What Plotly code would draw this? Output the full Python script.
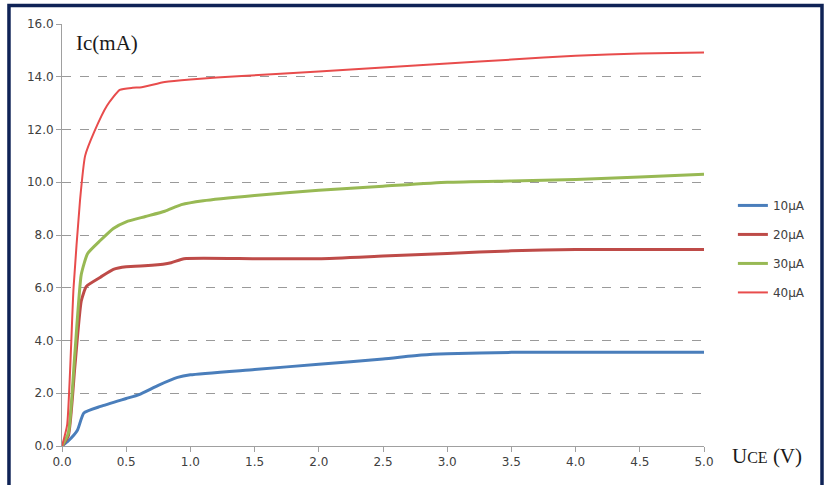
import plotly.graph_objects as go

# Data (U_CE in V, Ic in mA)
x_10 = [0, 0.05, 0.12, 0.17, 0.3, 0.5, 0.6, 0.75, 0.9, 1.0, 1.5, 2.0, 2.5, 2.8, 3.0, 3.5, 4.0, 4.5, 5.0]
y_10 = [0, 0.2, 0.6, 1.25, 1.5, 1.8, 1.95, 2.3, 2.6, 2.7, 2.9, 3.1, 3.3, 3.45, 3.5, 3.55, 3.55, 3.55, 3.55]

x_20 = [0, 0.05, 0.1, 0.15, 0.19, 0.3, 0.4, 0.5, 0.7, 0.85, 0.95, 1.5, 2.0, 2.5, 3.0, 3.5, 4.0, 4.5, 5.0]
y_20 = [0, 0.4, 3.0, 5.5, 6.05, 6.4, 6.7, 6.8, 6.85, 6.95, 7.1, 7.1, 7.1, 7.2, 7.3, 7.4, 7.45, 7.45, 7.45]

x_30 = [0, 0.05, 0.1, 0.15, 0.2, 0.3, 0.4, 0.5, 0.65, 0.8, 0.93, 1.1, 1.5, 2.0, 2.5, 3.0, 3.5, 4.0, 4.5, 5.0]
y_30 = [0, 0.5, 3.5, 6.5, 7.3, 7.8, 8.25, 8.5, 8.7, 8.9, 9.15, 9.3, 9.5, 9.7, 9.85, 10.0, 10.05, 10.1, 10.2, 10.3]

x_40 = [0, 0.04, 0.09, 0.14, 0.18, 0.25, 0.35, 0.45, 0.55, 0.62, 0.8, 1.0, 1.4, 2.0, 2.5, 3.0, 3.5, 4.0, 4.5, 5.0]
y_40 = [0, 0.8, 6.0, 9.3, 11.0, 11.9, 12.9, 13.5, 13.58, 13.6, 13.8, 13.9, 14.03, 14.2, 14.35, 14.5, 14.65, 14.8, 14.88, 14.92]

series_names = ["10μA", "20μA", "30μA", "40μA"]
series_colors = ["#4a7ebb", "#be4b48", "#98b954", "#e84c4c"]
series_widths = [3, 3, 3, 2]

x_ticks = [0, 0.5, 1.0, 1.5, 2.0, 2.5, 3.0, 3.5, 4.0, 4.5, 5.0]
y_ticks = [0, 2, 4, 6, 8, 10, 12, 14, 16]

fig = go.Figure()
for name, xs, ys, c, w in zip(series_names, [x_10, x_20, x_30, x_40], [y_10, y_20, y_30, y_40],
                              series_colors, series_widths):
    fig.add_trace(go.Scatter(x=xs, y=ys, mode="lines", name=name, legendgroup=name,
                             line=dict(color=c, width=w, shape="spline", smoothing=0.5)))

tick_font = dict(family="DejaVu Sans", size=12, color="#404040")

fig.update_layout(
    width=828, height=485,
    margin=dict(l=62, r=124, t=24, b=39),
    paper_bgcolor="white", plot_bgcolor="white",
    showlegend=True,
    legend=dict(x=1.045, xanchor="left", y=0.467, yanchor="middle",
                font=dict(family="DejaVu Sans", size=12, color="#404040"),
                tracegroupgap=10, bgcolor="rgba(0,0,0,0)"),
    xaxis=dict(range=[0, 5], tickvals=x_ticks, ticktext=[f"{v:.1f}" for v in x_ticks],
               showgrid=False, zeroline=False, showline=True, linecolor="#a0a0a0", linewidth=1,
               ticks="outside", ticklen=5, tickcolor="#a0a0a0", tickfont=tick_font),
    yaxis=dict(range=[0, 16], tickvals=y_ticks, ticktext=[f"{v:.1f}" for v in y_ticks],
               showgrid=True, gridcolor="#9a9a9a", griddash="dash", gridwidth=1,
               zeroline=False, showline=True, linecolor="#a0a0a0", linewidth=1,
               ticks="outside", ticklen=5, tickcolor="#a0a0a0", tickfont=tick_font),
    annotations=[
        dict(text="Ic(mA)", xref="paper", yref="paper", x=0.018, y=0.955, xanchor="left",
             yanchor="middle", showarrow=False,
             font=dict(family="Liberation Serif", size=21, color="#1a1a1a")),
        dict(text="U<span style='font-size:16px'>CE</span> (V)", xref="paper", yref="paper",
             x=1.04, y=-0.024, xanchor="left", yanchor="middle", showarrow=False,
             font=dict(family="Liberation Serif", size=21, color="#1a1a1a")),
    ],
    shapes=[
        dict(type="path", xref="paper", yref="paper",
             path="M -0.0826,-0.2 L -0.0826,1.0438 L 1.1838,1.0438 L 1.1838,-0.2",
             line=dict(color="#0f2356", width=3.5)),
    ],
)

fig.write_html("out.html", config={"displayModeBar": False},
               post_script="document.body.style.margin='0';")
